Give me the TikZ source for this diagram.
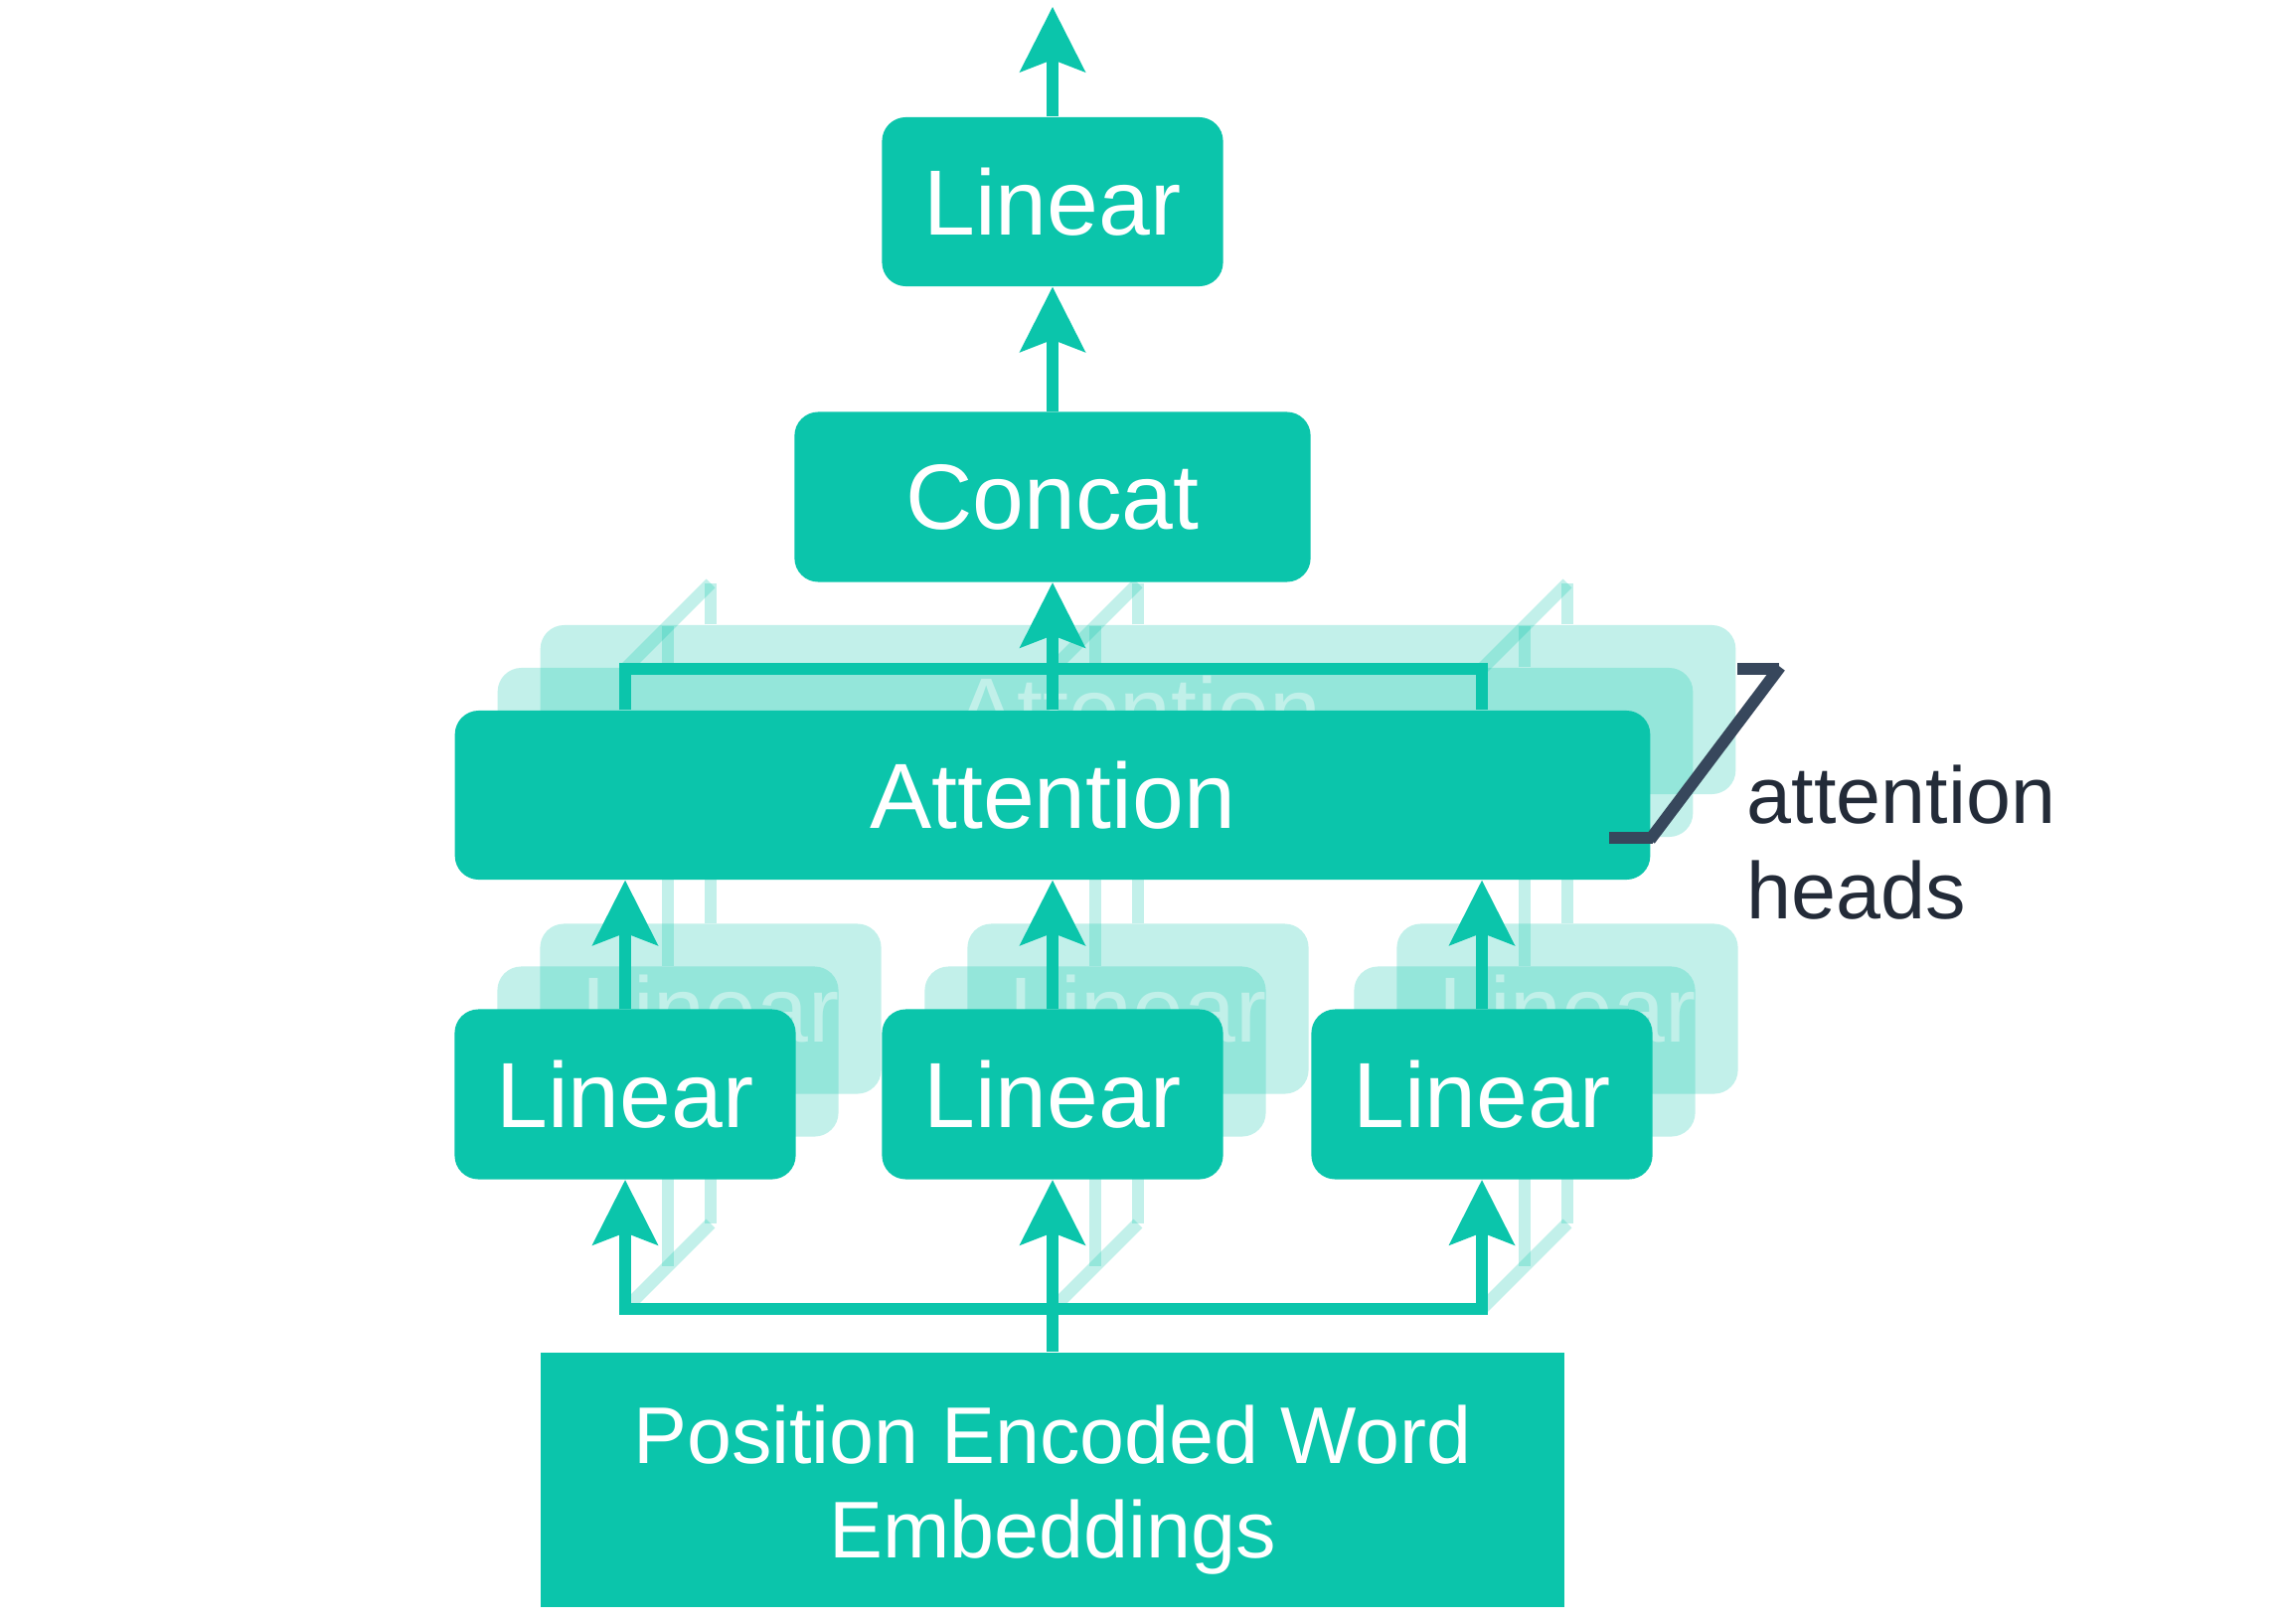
\documentclass[tikz,border=0pt]{standalone}
\usepackage{fontspec}
\setmainfont{Liberation Sans}
\usetikzlibrary{arrows.meta}
\definecolor{tealbox}{HTML}{0BC5AB}
\definecolor{slateline}{HTML}{37475C}
\definecolor{inktext}{HTML}{232B38}
\tikzset{
  blk/.style={fill=tealbox,text=white,inner sep=0pt,rounded corners=0.24cm,font=\fontsize{26.5}{32}\selectfont},
  linblk/.style={blk,minimum width=3.43cm,minimum height=1.71cm},
  attblk/.style={blk,minimum width=12.02cm,minimum height=1.70cm},
  ghost/.style={fill opacity=0.25,draw opacity=0.25,text opacity=1},
  wire/.style={draw=tealbox,line width=0.125cm},
  headline/.style={draw=slateline,line width=0.12cm},
}
\begin{document}
\begin{tikzpicture}[x=0.01cm,y=-0.01cm,>={Stealth[length=0.66cm,width=0.67cm,inset=0.13cm,line width=0pt]}]
\useasboundingbox (0,0) rectangle (2294,1633);
\foreach \x [count=\i] in {629,1059,1491}{
  \coordinate (b\i) at (\x,1317);
  \coordinate (t\i) at (\x,673);
}
% heads stacked behind
\foreach \k in {2,1}{
\begin{scope}[shift={(43*\k,-43*\k)}]
  \node[attblk,ghost] (att\k) at (1059,800) {Attention};
  \foreach \x [count=\i] in {629,1059,1491}{
    \node[linblk,ghost] (lin\k\i) at (\x,1101) {Linear};
    \coordinate (b\k\i) at (\x,1317);
    \coordinate (t\k\i) at (\x,673);
    \draw[wire,ghost] (b\k\i) -- (lin\k\i.south);
    \draw[wire,ghost] (lin\k\i.north) -- (lin\k\i.north |- att\k.south);
    \draw[wire,ghost] (att\k.north -| t\k\i) -- (t\k\i);
  }
\end{scope}
}
\foreach \i in {1,2,3}{
  \draw[wire,ghost] (b\i) -- (b2\i);
  \draw[wire,ghost] (t\i) -- (t2\i);
}
% front head
\node[linblk] (lin1) at (629,1101) {Linear};
\node[linblk] (lin2) at (1059,1101) {Linear};
\node[linblk] (lin3) at (1491,1101) {Linear};
\node[attblk] (att) at (1059,800) {Attention};
\node[blk,minimum width=5.19cm,minimum height=1.71cm] (cat) at (1059,500) {Concat};
\node[linblk,minimum height=1.70cm] (lin4) at (1059,203) {Linear};
\node[fill=tealbox,text=white,inner sep=0pt,minimum width=10.30cm,minimum height=2.56cm,align=center,
  font=\fontsize{23}{27}\selectfont] (emb) at (1059,1489) {\rule{0pt}{0.78cm}Position Encoded Word\\Embeddings};
\coordinate (top) at (1059,7);

\draw[wire] (emb) -- (b2);
\draw[wire,<->] (lin1) -- (b1) -- (b3) -- (lin3);
\draw[wire,->] (b2) -- (lin2);
\foreach \i in {1,2,3} \draw[wire,->] (lin\i) -- (lin\i |- att.south);
\draw[wire] (att.north -| t1) -- (t1) -- (t3) -- (att.north -| t3);
\draw[wire,->] (att) -- (cat);
\draw[wire,->] (cat) -- (lin4);
\draw[wire,->] (lin4) -- (top);

\draw[headline] (1619,843) -- (1663,843);
\draw[headline] (1660,845) -- (1791,671);
\draw[headline] (1748,673) -- (1790,673);
\node[anchor=north west,align=left,text=inktext,inner sep=0pt,font=\fontsize{23}{27.3}\selectfont] (heads) at (1757,769) {attention\\heads};
\end{tikzpicture}
\end{document}
